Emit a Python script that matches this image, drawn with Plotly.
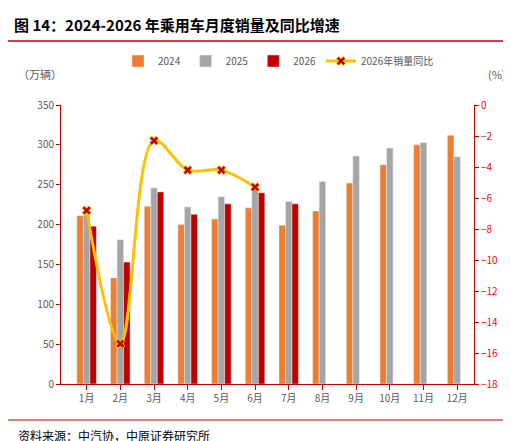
import plotly.graph_objects as go

months = ["1月","2月","3月","4月","5月","6月","7月","8月","9月","10月","11月","12月"]
s2024 = [211,133,223,200,207,221,199,217,252,275,300,312]
s2025 = [212,181,246,222,235,250,229,254,286,296,303,285]
s2026 = [198,153,241,213,226,240,226]
yoy2026 = [-6.8,-15.4,-2.3,-4.2,-4.2,-5.3]

font = "Noto Sans CJK SC"
W, H = 511, 441
L, R, T, B = 53, 45, 97, 65
PW, PH = W - L - R, H - T - B

def px(x):
    return (x - L) / PW

def py(y):
    return (H - B - y) / PH

fig = go.Figure()
fig.add_bar(x=months, y=s2024, name="2024", marker_color="#ED7D31")
fig.add_bar(x=months, y=s2025, name="2025", marker_color="#A5A5A5")
fig.add_bar(x=months[:7], y=s2026, name="2026", marker_color="#C00000")
fig.add_scatter(x=months[:6], y=yoy2026, name="2026年销量同比", yaxis="y2",
                mode="lines+markers", line=dict(color="#FFC000", width=3, shape="spline", smoothing=1.0),
                marker=dict(symbol="x", size=8, color="#C00000", line=dict(color="#FFC000", width=1)))

ann = lambda text, x, y, size=11, color="#595959", xa="left": dict(
    text=text, x=px(x), y=py(y), xref="paper", yref="paper", xanchor=xa, yanchor="middle",
    showarrow=False, font=dict(size=size, color=color, family=font))

fig.update_layout(
    width=W, height=H, plot_bgcolor="white", paper_bgcolor="white",
    margin=dict(l=L, r=R, t=T, b=B, autoexpand=False),
    font=dict(family=font, size=11, color="#595959"),
    barmode="group", bargap=0.42, bargroupgap=0.0,
    showlegend=True,
    legend=dict(orientation="h", x=px(110), xanchor="left", y=py(53), yanchor="middle",
                font=dict(size=10, color="#595959"), traceorder="normal", itemwidth=30),
    xaxis=dict(showline=True, linecolor="#C00000", ticks="outside", tickcolor="#C00000",
               showgrid=False, tickfont=dict(size=10, color="#595959")),
    yaxis=dict(range=[0,350], dtick=50, showgrid=False, showline=True, linecolor="#C00000",
               ticks="outside", tickcolor="#C00000", ticklen=4, tickfont=dict(size=10, color="#595959")),
    yaxis2=dict(range=[-18,0], dtick=2, overlaying="y", side="right", showgrid=False,
                showline=True, linecolor="#C00000", ticks="outside", tickcolor="#C00000", ticklen=4,
                tickfont=dict(size=10, color="#FF0000")),
    annotations=[
        ann("<b>图 14：2024-2026 年乘用车月度销量及同比增速</b>", 4, 16, size=15, color="#000000"),
        ann("（万辆）", 8, 66),
        ann("(%)", 478, 66),
        ann("资料来源：中汽协，中原证券研究所", 8, 427, size=12, color="#000000"),
    ],
    shapes=[
        dict(type="line", xref="paper", yref="paper", x0=px(0), x1=px(W), y0=py(33), y1=py(33),
             line=dict(color="#C00000", width=1.5)),
        dict(type="line", xref="paper", yref="paper", x0=px(0), x1=px(W), y0=py(412), y1=py(412),
             line=dict(color="#C00000", width=1)),
    ],
)
fig.write_html("out.html")
